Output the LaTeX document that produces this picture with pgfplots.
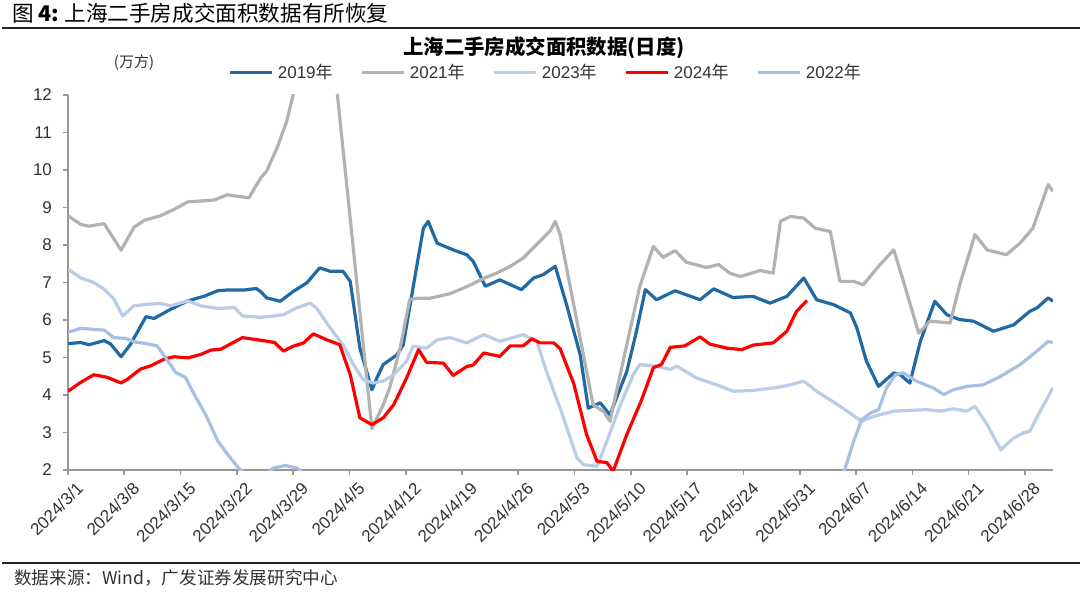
\documentclass[border=0pt]{standalone}
\usepackage{fontspec}
\setmainfont{Liberation Sans}
\newfontfamily\cjk{Noto Sans CJK SC}
\usepackage{pgfplots}
\pgfplotsset{compat=1.18}

\definecolor{c2019}{RGB}{31,106,165}
\definecolor{c2021}{RGB}{178,178,178}
\definecolor{c2023}{RGB}{185,205,230}
\definecolor{c2024}{RGB}{255,0,0}
\definecolor{c2022}{RGB}{168,191,228}
\definecolor{txt}{RGB}{50,50,50}
\definecolor{axgray}{RGB}{150,150,150}

\begin{document}
\begin{tikzpicture}[x=1pt,y=1pt]
\useasboundingbox (0,0) rectangle (540,298);

% header and footer
\node[anchor=west,inner sep=0pt] at (6,291.5) {\fontsize{10.8}{12}\selectfont\cjk 图\ \textbf{4:}\ 上海二手房成交面积数据有所恢复};
\draw[line width=0.9pt,black!85] (1,284) -- (540,284);
\draw[line width=0.9pt,black!85] (1,16.5) -- (540,16.5);
\node[anchor=west,inner sep=0pt,txt] at (7,9) {\fontsize{8.8}{10}\selectfont\cjk 数据来源：Wind，广发证券发展研究中心};

% chart title and unit
\node[inner sep=0pt] at (272,274) {\fontsize{10.2}{12}\selectfont\cjk\bfseries 上海二手房成交面积数据(日度)};
\node[inner sep=0pt,txt] at (67,266.5) {\fontsize{7.5}{9}\selectfont\cjk (万方)};

\begin{axis}[
  at={(34pt,63pt)}, anchor=south west,
  scale only axis, width=492.5pt, height=187.5pt,
  xmin=0, xmax=122.5, ymin=2, ymax=12,
  ytick={2,3,...,12},
  xtick={0,7,...,119},
  xticklabels={2024/3/1,2024/3/8,2024/3/15,2024/3/22,2024/3/29,2024/4/5,2024/4/12,2024/4/19,2024/4/26,2024/5/3,2024/5/10,2024/5/17,2024/5/24,2024/5/31,2024/6/7,2024/6/14,2024/6/21,2024/6/28},
  axis x line*=bottom, axis y line*=left,
  axis line style={draw=axgray,line width=0.8pt,-},
  tick style={draw=axgray,line width=0.8pt},
  tick align=outside, major tick length=2.5pt,
  /pgf/number format/assume math mode=true,
  tick label style={font=\fontsize{8.5}{10}\selectfont, text=txt},
  xticklabel style={rotate=45, anchor=east, xshift=4pt, yshift=-8pt},
  yticklabel style={xshift=-2pt},
  legend columns=5,
  legend style={at={(0.486,1.059)}, anchor=center, draw=none, fill=none,
    font=\fontsize{8.5}{10}\selectfont, text=txt,
    /tikz/every even column/.append style={column sep=12pt}},
  legend image code/.code={\draw[#1] (0pt,0pt) -- (21pt,0pt);},
  every axis plot/.append style={line width=1.6pt, line join=round},
]

\addplot[c2019] coordinates {
(0,5.37) (1.6,5.40) (2.6,5.34) (4.5,5.45) (5.3,5.36) (6.6,5.02) (7.8,5.36)
(9.7,6.09) (10.7,6.04) (12.8,6.29) (14.9,6.51) (17,6.64) (18.6,6.78) (19.8,6.80)
(21.9,6.80) (23.4,6.84) (24.0,6.75) (24.7,6.59) (26.4,6.50) (28,6.76) (29.7,6.99)
(31.3,7.39) (32.6,7.30) (34.2,7.30) (35.1,7.03) (36.3,5.25) (37.8,4.14) (38.4,4.45)
(39.2,4.81) (40.9,5.07) (41.7,5.34) (42.9,6.85) (44.2,8.45) (44.8,8.63) (45.9,8.05)
(47.9,7.87) (49.6,7.74) (50.4,7.56) (51.9,6.90) (53.7,7.07) (56.4,6.81) (57.9,7.12)
(59.1,7.21) (60.6,7.43) (62.0,6.41) (63.7,5.07) (64.7,3.65) (66.2,3.79) (67.4,3.47)
(69.5,4.63) (70.7,5.70) (71.8,6.81) (73.2,6.54) (75.5,6.78) (78.6,6.54) (80.3,6.83)
(82.7,6.60) (85.2,6.63) (87.3,6.45) (89.4,6.63) (91.5,7.12) (93.1,6.54) (95.2,6.41)
(97.3,6.19) (98.1,5.79) (99.3,4.90) (100.8,4.23) (102.7,4.59) (103.5,4.54) (104.7,4.32)
(106.0,5.43) (107.8,6.50) (109.3,6.14) (110.9,6.01) (112.6,5.97) (115.1,5.70)
(117.6,5.87) (119.6,6.23) (120.5,6.32) (121.9,6.59) (122.5,6.50)
};
\addlegendentry{2019{\cjk 年}}

\addplot[c2021] coordinates {
(0,8.78) (1.6,8.55) (2.6,8.50) (4.5,8.57) (6.6,7.86) (8.2,8.47) (9.5,8.66)
(11.5,8.78) (13.2,8.95) (14.9,9.15) (16.9,9.18) (18.2,9.20) (19.8,9.34) (21,9.30)
(22.5,9.26) (24,9.80) (24.7,9.97) (26,10.59) (27.2,11.30) (28,12.0) (29,13.7)
(30,15.4) (31,17.2) (37.8,3.10) (39.2,3.74) (40.0,4.19) (41.3,5.25) (42.5,6.55)
(43.4,6.58) (45,6.58) (47.5,6.70) (49.6,6.89) (51.7,7.11) (53.3,7.25) (55,7.43)
(56.6,7.65) (58.7,8.10) (59.95,8.37) (60.6,8.63) (61.2,8.28) (65.3,3.74) (66.6,3.56)
(67.4,3.30) (69.5,5.35) (71.1,6.89) (72.8,7.96) (74.0,7.67) (75.5,7.85) (76.9,7.54)
(79.4,7.40) (80.9,7.48) (82.3,7.25) (83.6,7.16) (86.1,7.32) (87.7,7.25) (88.6,8.63)
(89.8,8.76) (91.5,8.72) (92.9,8.45) (94.8,8.36) (96.0,7.03) (97.7,7.03) (98.9,6.94)
(101.0,7.48) (102.7,7.87) (103.9,7.03) (105.8,5.65) (107.2,5.97) (109.7,5.92)
(110.9,6.94) (112.8,8.28) (114.3,7.87) (116.7,7.74) (118.4,8.05) (120.0,8.45)
(121.9,9.61) (122.5,9.43)
};
\addlegendentry{2021{\cjk 年}}

\addplot[c2023] coordinates {
(0,7.36) (1.6,7.12) (3.2,7.00) (4.5,6.82) (5.7,6.56) (6.8,6.11) (8.2,6.38)
(9.9,6.42) (11.5,6.44) (12.8,6.38) (14.9,6.51) (16.5,6.38) (18.6,6.31) (20.7,6.33)
(21.7,6.11) (24.0,6.07) (26.8,6.14) (28.4,6.32) (30.1,6.45) (30.9,6.32) (32.6,5.79)
(34.2,5.34) (35.5,4.81) (36.7,4.41) (38.0,4.32) (39.2,4.37) (40.5,4.54) (42.1,4.90)
(42.9,5.30) (44.6,5.25) (45.9,5.47) (47.5,5.53) (49.6,5.39) (51.7,5.61) (53.7,5.43)
(56.6,5.61) (58.3,5.43) (59.5,4.63) (61.2,3.65) (63.3,2.32) (64.1,2.14) (65.8,2.10)
(67.0,2.76) (68.7,3.74) (70.3,4.54) (71.1,4.81) (73.2,4.77) (74.9,4.68) (75.7,4.77)
(78.2,4.45) (80.7,4.27) (82.7,4.10) (85.2,4.12) (88.1,4.20) (89.8,4.27) (91.5,4.37)
(93.1,4.10) (96.0,3.70) (98.7,3.30) (100.2,3.43) (102.7,3.57) (106.8,3.61)
(108.5,3.57) (110.1,3.63) (111.8,3.57) (112.8,3.70) (114.3,3.21) (116.0,2.54)
(117.6,2.85) (118.8,2.99) (119.6,3.03) (120.9,3.57) (122.5,4.19)
};
\addlegendentry{2023{\cjk 年}}

\addplot[c2024] coordinates {
(0,4.10) (1.6,4.34) (3.2,4.54) (4.9,4.47) (6.6,4.32) (7.4,4.42) (9.0,4.69)
(10.3,4.78) (12.0,4.96) (13.2,5.02) (14.9,4.99) (16.5,5.08) (17.8,5.20) (19.0,5.22)
(20.2,5.36) (21.7,5.53) (24.3,5.45) (25.7,5.40) (26.8,5.17) (28.0,5.30) (29.3,5.39)
(30.5,5.63) (32.2,5.47) (33.8,5.34) (35.1,4.54) (36.3,3.39) (37.8,3.21) (39.2,3.39)
(40.5,3.74) (42.1,4.45) (43.6,5.21) (44.6,4.87) (46.7,4.85) (47.9,4.52) (49.6,4.76)
(50.4,4.80) (51.7,5.12) (53.7,5.03) (55.0,5.31) (56.6,5.31) (57.7,5.50) (58.7,5.39)
(60.4,5.39) (61.2,5.24) (62.9,4.30) (64.5,2.94) (65.8,2.23) (67.0,2.20) (67.8,1.97)
(69.5,2.95) (71.3,3.85) (72.8,4.73) (73.8,4.81) (74.9,5.27) (76.7,5.31) (78.6,5.55)
(79.8,5.36) (81.9,5.25) (83.8,5.21) (85.2,5.33) (87.7,5.39) (89.4,5.70) (90.6,6.23)
(91.9,6.52)
};
\addlegendentry{2024{\cjk 年}}

\addplot[c2022] coordinates {
(0,5.67) (1.6,5.78) (3.2,5.75) (4.5,5.73) (5.7,5.53) (7.2,5.51) (8.2,5.42)
(9.7,5.37) (11.1,5.31) (12.4,4.91) (13.4,4.60) (14.6,4.47) (15.7,4.02) (17.3,3.40)
(18.6,2.78) (19.8,2.43) (21.3,2.03) (22.5,1.85) (24.0,1.80) (25.5,2.05) (27.0,2.12)
(28.5,2.05) (29.7,1.85) (31,1.5) (35,1.0) (40,0.6) (50,0.4) (60,0.5) (70,0.7)
(80,0.9) (90,1.2) (95,1.6) (96.6,2.01) (97.7,2.76) (98.7,3.34) (99.8,3.52)
(100.8,3.61) (101.8,4.19) (102.9,4.54) (103.9,4.59) (105.5,4.37) (107.6,4.19)
(108.9,4.01) (110.1,4.14) (111.8,4.23) (113.8,4.27) (116.0,4.50) (118.4,4.81)
(120.5,5.17) (121.9,5.43) (122.5,5.39)
};
\addlegendentry{2022{\cjk 年}}

\end{axis}
\end{tikzpicture}
\end{document}
